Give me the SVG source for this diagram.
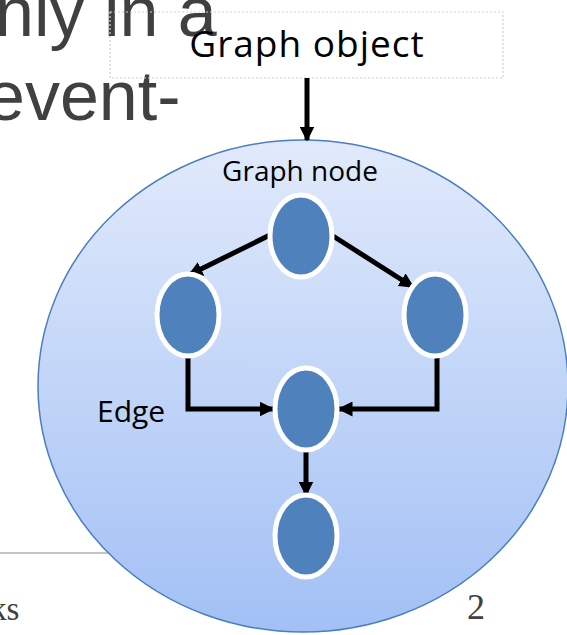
<svg xmlns="http://www.w3.org/2000/svg" width="567" height="635" viewBox="0 0 567 635">
<defs>
<linearGradient id="bg" x1="0" y1="0" x2="0" y2="1">
<stop offset="0" stop-color="#e1eafb"/>
<stop offset="1" stop-color="#a2c0f5"/>
</linearGradient>
<marker id="ah" viewBox="0 0 10 10" refX="9" refY="5" markerWidth="3" markerHeight="3" orient="auto" markerUnits="strokeWidth">
<path d="M0,0 L10,5 L0,10 z" fill="#000"/>
</marker>
<style>
.slide{font-family:"Liberation Sans",Arial,sans-serif;fill:#404040}
.serif{font-family:"Liberation Serif","Times New Roman",serif;fill:#404040}
.lbl{font-family:"Open Sans","Liberation Sans",sans-serif;fill:#000}
.node{fill:#4f81bd;stroke:#fff;stroke-width:5}
.edge{fill:none;stroke:#000;stroke-width:5;marker-end:url(#ah)}
</style>
</defs>
<rect width="567" height="635" fill="#fff"/>
<g id="slide-bg">
<text class="slide" x="-5" y="36" font-size="70">nly in a</text>
<text class="slide" x="-14" y="120" font-size="70">event-</text>
<line x1="0" y1="553" x2="200" y2="553" stroke="#888" stroke-width="1"/>
<text class="serif" x="-10" y="620" font-size="33">ks</text>
</g>
<g id="graph-object">
<rect x="110" y="12" width="393" height="66" fill="none" stroke="#d0d0d0" stroke-width="1.2" stroke-dasharray="2,2"/>
<text class="lbl" x="307" y="57" font-size="37" letter-spacing="1" text-anchor="middle">Graph object</text>
</g>
<g id="graph-circle">
<ellipse cx="303" cy="386" rx="265" ry="246" fill="url(#bg)" stroke="#4a7ebf" stroke-width="1.5"/>
<text class="lbl" x="300" y="181" font-size="28" text-anchor="middle">Graph node</text>
<text class="lbl" x="97" y="422" font-size="30">Edge</text>
</g>
<g id="connectors">
<line class="edge" x1="270" y1="235" x2="189" y2="275"/>
<line class="edge" x1="333" y1="236" x2="413" y2="287"/>
<polyline class="edge" points="188,357 188,409 273,409"/>
<polyline class="edge" points="437,357 437,409 339,409"/>
<line class="edge" x1="306" y1="452" x2="306" y2="495"/>
<line class="edge" x1="307" y1="78" x2="307" y2="140"/>
</g>
<g id="node-top"><ellipse class="node" cx="301" cy="236" rx="31" ry="41"/></g>
<g id="node-left"><ellipse class="node" cx="188" cy="315" rx="31" ry="41"/></g>
<g id="node-right"><ellipse class="node" cx="435" cy="315" rx="31" ry="41"/></g>
<g id="node-middle"><ellipse class="node" cx="306" cy="409" rx="31" ry="41"/></g>
<g id="node-bottom"><ellipse class="node" cx="306" cy="536" rx="31" ry="41"/></g>
<text class="serif" x="467" y="619" font-size="36">2</text>
</svg>
